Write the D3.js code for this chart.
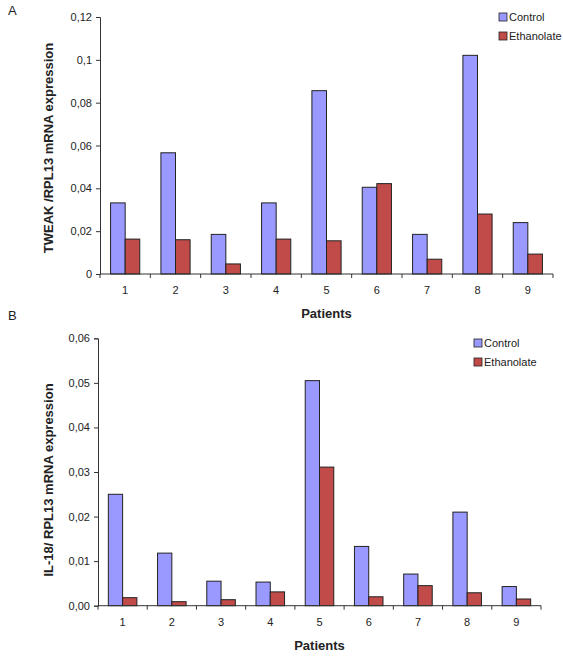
<!DOCTYPE html>
<html>
<head>
<meta charset="utf-8">
<script src="https://cdn.jsdelivr.net/npm/d3@7"></script>
<style>
  body { margin: 0; background: #fff; }
  svg { display: block; }
  text { font-family: Arial, "Liberation Sans", sans-serif; fill: #222; }
</style>
</head>
<body>
<svg id="chart" width="563" height="656"></svg>
<script>
// ---- Data ----
const patients = ["1", "2", "3", "4", "5", "6", "7", "8", "9"];
const seriesNames = ["Control", "Ethanolate"];
const tweakControl    = [0.0332, 0.0566, 0.0185, 0.0332, 0.0856, 0.0405, 0.0185, 0.1021, 0.0240];
const tweakEthanolate = [0.0163, 0.0160, 0.0047, 0.0163, 0.0155, 0.0422, 0.0069, 0.0280, 0.0093];
const il18Control     = [0.0250, 0.0118, 0.0055, 0.0053, 0.0505, 0.0133, 0.0071, 0.0210, 0.0043];
const il18Ethanolate  = [0.0018, 0.0009, 0.00135, 0.0031, 0.0311, 0.0020, 0.0045, 0.0029, 0.0015];
const tweakTicks = [0, 0.02, 0.04, 0.06, 0.08, 0.1, 0.12];
const tweakTickLabels = ["0", "0,02", "0,04", "0,06", "0,08", "0,1", "0,12"];
const il18Ticks = [0, 0.01, 0.02, 0.03, 0.04, 0.05, 0.06];
const il18TickLabels = ["0,00", "0,01", "0,02", "0,03", "0,04", "0,05", "0,06"];

const colors = ["#9999FF", "#C04B48"];
const svg = d3.select("#chart");

function panel(opts) {
  const g = svg.append("g");
  const x = d3.scaleBand().domain(patients).range([opts.left, opts.right]).paddingInner(0).paddingOuter(0);
  const bw = x.bandwidth();
  const xs = d3.scaleBand().domain(seriesNames).range([0.21 * bw, 0.79 * bw]).padding(0);
  const y = d3.scaleLinear().domain([0, opts.max]).range([opts.bottom, opts.top]);

  // bars
  const data = patients.map((p, i) => ({ p, vals: [opts.s1[i], opts.s2[i]] }));
  const grp = g.selectAll("g.grp").data(data).join("g").attr("transform", d => `translate(${x(d.p)},0)`);
  grp.selectAll("rect").data(d => d.vals.map((v, k) => ({ v, k })))
    .join("rect")
    .attr("x", d => xs(seriesNames[d.k]))
    .attr("width", xs.bandwidth())
    .attr("y", d => y(d.v))
    .attr("height", d => y(0) - y(d.v))
    .attr("fill", d => colors[d.k])
    .attr("stroke", "#222")
    .attr("stroke-width", 1);

  // y axis
  const yAxis = d3.axisLeft(y).tickValues(opts.ticks).tickFormat((d, i) => opts.labels[i]).tickSize(4).tickPadding(4);
  const ya = g.append("g").attr("transform", `translate(${opts.left},0)`).call(yAxis);
  ya.select(".domain").attr("stroke", "#333");
  ya.selectAll(".tick line").attr("stroke", "#333");
  ya.selectAll(".tick text").attr("font-size", 11).attr("fill", "#222").style("font-family", "Arial, 'Liberation Sans', sans-serif");

  // x axis: ticks at category boundaries
  const xa = g.append("g").attr("transform", `translate(0,${opts.bottom})`);
  xa.append("line").attr("x1", opts.left).attr("x2", opts.right).attr("y1", 0).attr("y2", 0).attr("stroke", "#333");
  const bounds = patients.map(p => x(p)).concat([opts.right]);
  xa.selectAll("line.t").data(bounds).join("line").attr("class", "t")
    .attr("x1", d => d).attr("x2", d => d).attr("y1", 0).attr("y2", 4).attr("stroke", "#333");
  xa.selectAll("text").data(patients).join("text")
    .attr("x", d => x(d) + bw / 2).attr("y", 20)
    .attr("text-anchor", "middle").attr("font-size", 11).text(d => d);

  // axis titles
  g.append("text").attr("x", (opts.left + opts.right) / 2).attr("y", opts.bottom + 44)
    .attr("text-anchor", "middle").attr("font-size", 13).attr("font-weight", "bold").text("Patients");
  g.append("text").attr("transform", `translate(${opts.ytitleX},${opts.ytitleY}) rotate(-90)`)
    .attr("text-anchor", "middle").attr("font-size", 13).attr("font-weight", "bold").text(opts.ytitle);

  // panel letter
  g.append("text").attr("x", 8).attr("y", opts.letterY).attr("font-size", 13).text(opts.letter);

  // legend
  const lg = g.append("g").attr("transform", `translate(${opts.legX},${opts.legY})`);
  seriesNames.forEach((n, k) => {
    lg.append("rect").attr("x", 0).attr("y", k * 19 - 4).attr("width", 8).attr("height", 8)
      .attr("fill", colors[k]).attr("stroke", "#222").attr("stroke-width", 0.8);
    lg.append("text").attr("x", 10).attr("y", k * 19 + 4).attr("font-size", 11).text(n);
  });
}

panel({
  left: 100, right: 553, top: 17, bottom: 274, max: 0.12,
  s1: tweakControl, s2: tweakEthanolate, ticks: tweakTicks, labels: tweakTickLabels,
  ytitle: "TWEAK /RPL13 mRNA expression", ytitleX: 53, ytitleY: 148, letter: "A", letterY: 15,
  legX: 499, legY: 17
});
panel({
  left: 98, right: 541, top: 338.3, bottom: 605.7, max: 0.06,
  s1: il18Control, s2: il18Ethanolate, ticks: il18Ticks, labels: il18TickLabels,
  ytitle: "IL-18/ RPL13 mRNA expression", ytitleX: 53, ytitleY: 480, letter: "B", letterY: 320,
  legX: 474, legY: 343
});
</script>
</body>
</html>
